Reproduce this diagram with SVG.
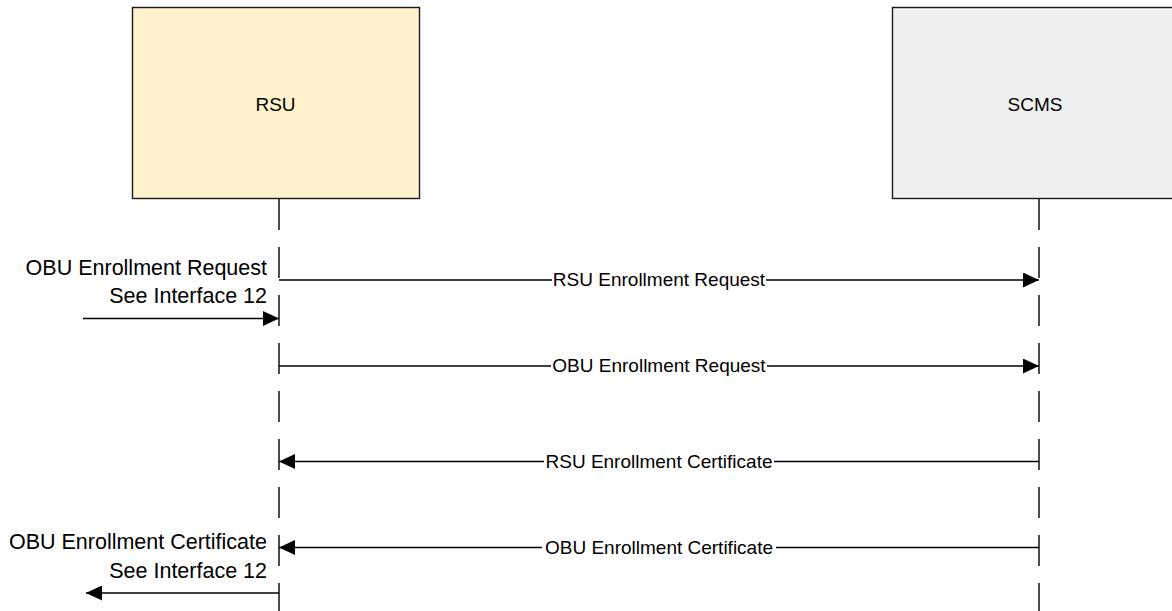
<svg xmlns="http://www.w3.org/2000/svg" width="1172" height="611" viewBox="0 0 1172 611">
  <defs>
    <style>
      .box { stroke: #1a1a1a; stroke-width: 1.4; }
      .lifeline { stroke: #000; stroke-width: 1.4; stroke-dasharray: 31 17; fill: none; }
      .msg { stroke: #000; stroke-width: 1.3; fill: none; }
      .title { font-family: "Liberation Sans", Arial, sans-serif; font-size: 19px; fill: #000; text-anchor: middle; }
      .label { font-family: "Liberation Sans", Arial, sans-serif; font-size: 19px; fill: #000; text-anchor: middle; }
      .side { font-family: "Liberation Sans", Arial, sans-serif; font-size: 21.5px; fill: #000; text-anchor: end; }
      .bg { fill: #fff; }
    </style>
    <marker id="arrow" viewBox="0 0 16 15" refX="16" refY="7.5" markerWidth="16" markerHeight="15" markerUnits="userSpaceOnUse" orient="auto">
      <path d="M0,0 L16,7.5 L0,15 Z" fill="#000"/>
    </marker>
  </defs>

  <!-- participant: RSU -->
  <g id="rsu">
    <rect class="box" x="132.5" y="7.5" width="287" height="191" fill="#FFF2CC"/>
    <text class="title" x="275.5" y="111">RSU</text>
    <line class="lifeline" x1="279" y1="199" x2="279" y2="611"/>
  </g>

  <!-- participant: SCMS -->
  <g id="scms">
    <rect class="box" x="892.5" y="7.5" width="287" height="191" fill="#F0F0F0"/>
    <text class="title" x="1035" y="111">SCMS</text>
    <line class="lifeline" x1="1039" y1="199" x2="1039" y2="611"/>
  </g>

  <!-- external side labels -->
  <g id="side-labels">
    <text class="side" x="267" y="275">OBU Enrollment Request</text>
    <text class="side" x="267" y="303">See Interface 12</text>
    <text class="side" x="267" y="549">OBU Enrollment Certificate</text>
    <text class="side" x="267" y="578">See Interface 12</text>
  </g>

  <!-- messages -->
  <g id="connectors">
    <line class="msg" x1="83" y1="318.5" x2="279" y2="318.5" marker-end="url(#arrow)"/>

    <line class="msg" x1="279" y1="280" x2="1039" y2="280" marker-end="url(#arrow)"/>
    <rect class="bg" x="552" y="268" width="214" height="22"/>
    <text class="label" x="659" y="286">RSU Enrollment Request</text>

    <line class="msg" x1="279" y1="366" x2="1039" y2="366" marker-end="url(#arrow)"/>
    <rect class="bg" x="551" y="354" width="216" height="22"/>
    <text class="label" x="659" y="372">OBU Enrollment Request</text>

    <line class="msg" x1="1039" y1="461.5" x2="279" y2="461.5" marker-end="url(#arrow)"/>
    <rect class="bg" x="544" y="450" width="230" height="22"/>
    <text class="label" x="659" y="468">RSU Enrollment Certificate</text>

    <line class="msg" x1="1039" y1="547.5" x2="279" y2="547.5" marker-end="url(#arrow)"/>
    <rect class="bg" x="542" y="536" width="234" height="22"/>
    <text class="label" x="659" y="554">OBU Enrollment Certificate</text>

    <line class="msg" x1="279" y1="593" x2="86" y2="593" marker-end="url(#arrow)"/>
  </g>
</svg>
